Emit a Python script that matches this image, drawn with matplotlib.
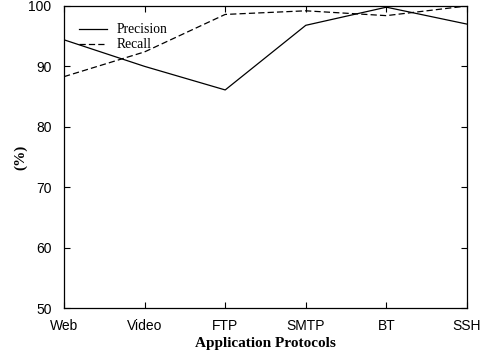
import matplotlib
matplotlib.use('Agg')
import matplotlib.pyplot as plt

protocols = ['Web', 'Video', 'FTP', 'SMTP', 'BT', 'SSH']
precision = [94.4, 90.0, 86.1, 96.8, 99.8, 97.0]
recall = [88.3, 92.4, 98.6, 99.2, 98.4, 100.0]

fig = plt.figure(figsize=(4.82, 3.6), dpi=100)
ax = fig.add_axes([0.1328, 0.1444, 0.836, 0.839])

x = list(range(len(protocols)))
ax.plot(x, precision, color='black', lw=0.9, ls='-', label='Precision')
ax.plot(x, recall, color='black', lw=0.9, ls=(0, (5, 2.5)), label='Recall')

ax.set_xlim(0, 5)
ax.set_ylim(50, 100)
ax.set_xticks(x)
ax.set_xticklabels(protocols, family='Liberation Sans', fontsize=10)
ax.set_yticks([50, 60, 70, 80, 90, 100])
ax.set_yticklabels(['50', '60', '70', '80', '90', '100'], family='Liberation Sans', fontsize=10)
ax.tick_params(direction='in', top=True, right=True, length=4, width=0.8)
ax.tick_params(axis='x', pad=8)
ax.tick_params(axis='y', pad=9)
for s in ax.spines.values():
    s.set_linewidth(0.9)

ax.set_xlabel('Application Protocols', family='Liberation Serif', fontweight='bold', fontsize=11, labelpad=3)
ax.set_ylabel('(%)', family='Liberation Serif', fontweight='bold', fontsize=11)
ax.yaxis.set_label_coords(-0.092, 0.5)

ax.legend(loc='upper left', frameon=False,
          prop={'family': 'Liberation Serif', 'size': 9.8},
          handlelength=2.0, handletextpad=0.7, labelspacing=0.15,
          bbox_to_anchor=(0.008, 0.983))

fig.savefig('out.png', dpi=100)
